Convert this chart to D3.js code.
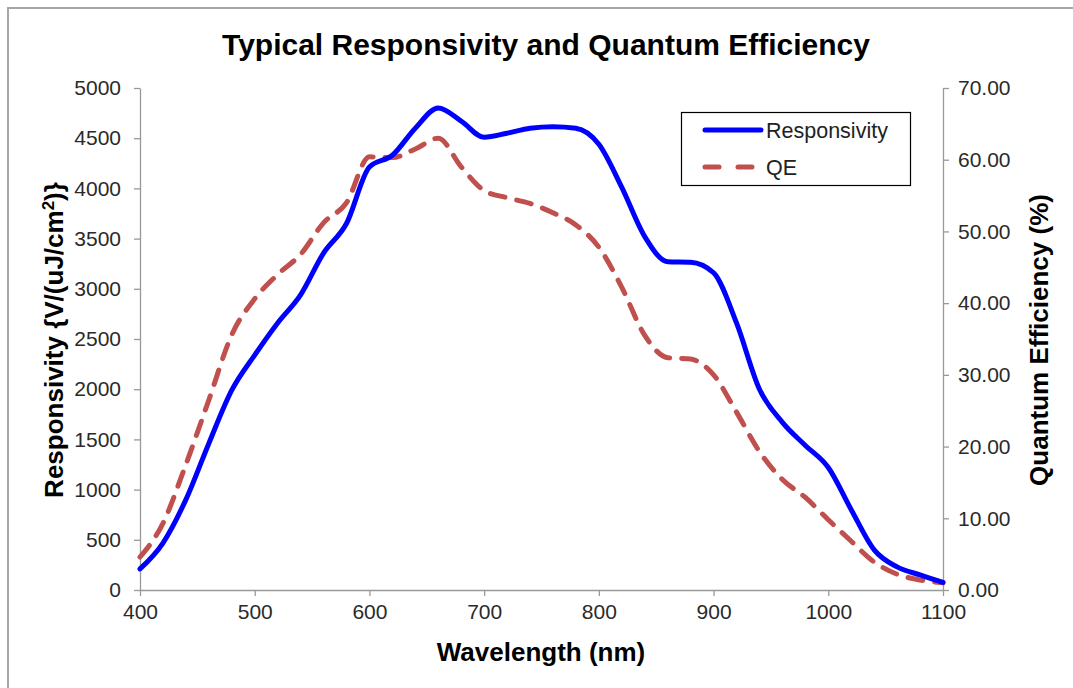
<!DOCTYPE html>
<html>
<head>
<meta charset="utf-8">
<script src="https://cdn.jsdelivr.net/npm/d3@7"></script>
<style>
  html, body { margin: 0; padding: 0; background: #fff; }
  svg { display: block; }
  text { font-family: "Liberation Sans", Arial, sans-serif; }
</style>
</head>
<body>
<svg id="chart" width="1073" height="688"></svg>
<script>
const title = "Typical Responsivity and Quantum Efficiency";
const wavelengths = [400,420,440,460,480,500,520,540,560,580,600,620,640,660,680,700,720,740,760,780,800,820,840,860,880,900,920,940,960,980,1000,1020,1040,1060,1080,1100];
const responsivity = [210,468,900,1460,1990,2340,2660,2940,3356,3650,4213,4330,4600,4800,4670,4510,4550,4600,4615,4600,4440,4010,3520,3270,3265,3160,2660,2000,1670,1440,1220,800,400,230,150,75];
const qe = [4.6,9.3,17.5,26.5,35.6,40.6,44.0,46.8,51.2,54.0,60.4,60.3,61.5,63.0,59.0,55.7,54.7,53.9,52.6,50.9,47.8,42.2,35.5,32.4,32.2,30.0,24.8,19.3,15.4,12.9,9.8,6.8,3.9,2.2,1.4,1.0];
const xTicks = [400,500,600,700,800,900,1000,1100];
const leftTicks = [0,500,1000,1500,2000,2500,3000,3500,4000,4500,5000];
const rightTicks = [0,10,20,30,40,50,60,70];
const seriesNames = ["Responsivity", "QE"];

const svg = d3.select("#chart");
const m = {left: 140, right: 943, top: 88, bottom: 590};

// outer frame (top and left edges visible)
svg.append("path").attr("d", "M8,688 L8,8 L1073,8").attr("fill", "none")
  .attr("stroke", "#a6a6a6").attr("stroke-width", 2);

const x = d3.scaleLinear().domain([400, 1100]).range([m.left, m.right]);
const yL = d3.scaleLinear().domain([0, 5000]).range([m.bottom, m.top]);
const yR = d3.scaleLinear().domain([0, 70]).range([m.bottom, m.top]);

const axisColor = "#999";
const labelColor = "#2a2a2a";

function styleAxis(g) {
  g.selectAll(".domain").attr("stroke", axisColor).attr("stroke-width", 1.3);
  g.selectAll(".tick line").attr("stroke", axisColor).attr("stroke-width", 1.3);
  g.selectAll(".tick text").attr("fill", labelColor)
    .style("font-size", "21px").style("font-family", "'Liberation Sans', Arial, sans-serif");
}

const gx = svg.append("g").attr("transform", `translate(0,${m.bottom})`)
  .call(d3.axisBottom(x).tickValues(xTicks).tickSize(6).tickSizeOuter(0).tickPadding(8).tickFormat(d3.format("d")));
styleAxis(gx);

const gl = svg.append("g").attr("transform", `translate(${m.left},0)`)
  .call(d3.axisLeft(yL).tickValues(leftTicks).tickSize(6).tickSizeOuter(0).tickPadding(13).tickFormat(d3.format("d")));
styleAxis(gl);

const gr = svg.append("g").attr("transform", `translate(${m.right},0)`)
  .call(d3.axisRight(yR).tickValues(rightTicks).tickSize(6).tickSizeOuter(0).tickPadding(9).tickFormat(d3.format(".2f")));
styleAxis(gr);

// lines
const lineR = d3.line().x((d, i) => x(wavelengths[i])).y(d => yL(d)).curve(d3.curveMonotoneX);
const lineQ = d3.line().x((d, i) => x(wavelengths[i])).y(d => yR(d)).curve(d3.curveMonotoneX);

svg.append("path").datum(qe).attr("d", lineQ).attr("fill", "none")
  .attr("stroke", "#C0504D").attr("stroke-width", 5)
  .attr("stroke-dasharray", "15,12").attr("stroke-linecap", "round").attr("stroke-linejoin", "round");

svg.append("path").datum(responsivity).attr("d", lineR).attr("fill", "none")
  .attr("stroke", "#0000FF").attr("stroke-width", 5).attr("stroke-linejoin", "round").attr("stroke-linecap", "round");

// title
svg.append("text").attr("x", 546).attr("y", 55).attr("text-anchor", "middle")
  .style("font-size", "30px").style("font-weight", "bold").attr("fill", "#000").text(title);

// axis titles
svg.append("text").attr("x", 541).attr("y", 661).attr("text-anchor", "middle")
  .style("font-size", "26px").style("font-weight", "bold").attr("fill", "#000").text("Wavelength (nm)");

const lt = svg.append("text").attr("transform", `translate(63,340) rotate(-90)`).attr("text-anchor", "middle")
  .style("font-size", "26px").style("font-weight", "bold").attr("fill", "#000");
lt.append("tspan").text("Responsivity {V/(uJ/cm");
lt.append("tspan").attr("dy", -9).style("font-size", "17px").text("2");
lt.append("tspan").attr("dy", 9).text(")}");

svg.append("text").attr("transform", `translate(1048,340) rotate(-90)`).attr("text-anchor", "middle")
  .style("font-size", "26px").style("font-weight", "bold").attr("fill", "#000").text("Quantum Efficiency (%)");

// legend
const lg = svg.append("g");
lg.append("rect").attr("x", 681.5).attr("y", 112.5).attr("width", 229).attr("height", 73)
  .attr("fill", "#fff").attr("stroke", "#000").attr("stroke-width", 1.2);
lg.append("line").attr("x1", 705).attr("x2", 761).attr("y1", 130).attr("y2", 130)
  .attr("stroke", "#0000FF").attr("stroke-width", 5).attr("stroke-linecap", "round");
lg.append("line").attr("x1", 705).attr("x2", 756).attr("y1", 167).attr("y2", 167)
  .attr("stroke", "#C0504D").attr("stroke-width", 5).attr("stroke-linecap", "round").attr("stroke-dasharray", "14,19");
lg.append("text").attr("x", 766).attr("y", 138).style("font-size", "21.5px").attr("fill", "#222").text(seriesNames[0]);
lg.append("text").attr("x", 766).attr("y", 175).style("font-size", "21.5px").attr("fill", "#222").text(seriesNames[1]);
</script>
</body>
</html>
